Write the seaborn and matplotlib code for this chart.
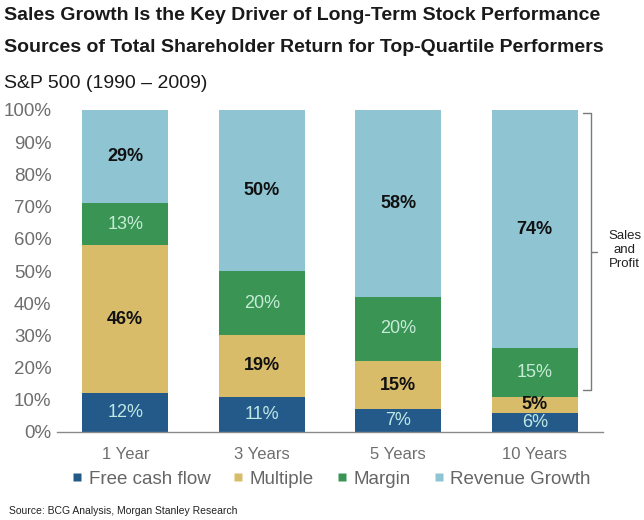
import matplotlib
matplotlib.use("Agg")
import matplotlib.pyplot as plt
from matplotlib.lines import Line2D
import seaborn as sns
import pandas as pd
import numpy as np

# ---- data ----
categories = ["1 Year", "3 Years", "5 Years", "10 Years"]
free_cash_flow = [12, 11, 7, 6]
multiple = [46, 19, 15, 5]
margin = [13, 20, 20, 15]
revenue_growth = [29, 50, 58, 74]
series_names = ["Free cash flow", "Multiple", "Margin", "Revenue Growth"]
series_values = [free_cash_flow, multiple, margin, revenue_growth]
colors = ["#245a8a", "#d8bc6a", "#3a9454", "#8fc5d3"]
label_colors = ["#bfe8e4", "#111111", "#c6ecd8", "#111111"]
ytick_vals = [i / 10 for i in range(11)]

sns.set_theme(style="white")
plt.rcParams["font.family"] = ["Liberation Sans", "DejaVu Sans"]

fig = plt.figure(figsize=(6.44, 5.2), dpi=100)
ax = fig.add_axes([57 / 644, 88 / 520, 546 / 644, 322 / 520])

# cumulative tops
cum = np.zeros(len(categories))
tops = []
for name, vals in zip(series_names, series_values):
    cum = cum + np.array(vals) / 100.0
    tops.append(cum.copy())

# draw tallest first, overlay shorter
for i in reversed(range(len(series_names))):
    d = pd.DataFrame({"category": categories, "top": tops[i]})
    sns.barplot(data=d, x="category", y="top", color=colors[i], width=0.63,
                saturation=1, ax=ax, errorbar=None, edgecolor="none")

# segment labels
for i, (name, vals) in enumerate(zip(series_names, series_values)):
    for j, v in enumerate(vals):
        bottom = tops[i][j] - v / 100.0
        mid = bottom + v / 200.0
        if v == 5:
            mid = bottom + 0.025
        dark = label_colors[i] == "#111111"
        ax.text(j, mid, f"{v}%", ha="center", va="center", fontsize=13,
                color=label_colors[i], fontweight="semibold" if dark else "normal")

ax.set_xlim(-0.5, 3.5)
ax.set_ylim(0, 1)
ax.set_yticks(ytick_vals)
ax.set_yticklabels([f"{int(round(t*100))}%" for t in ytick_vals])
ax.set_xlabel("")
ax.set_ylabel("")
for s in ["left", "right", "top"]:
    ax.spines[s].set_visible(False)
ax.spines["bottom"].set_color("#8a8a8a")
ax.spines["bottom"].set_linewidth(1.0)
ax.tick_params(axis="y", length=0, labelsize=13.5, labelcolor="#6e6e6e", pad=4)
ax.tick_params(axis="x", length=0, labelsize=12, labelcolor="#6e6e6e", pad=11)

# bracket
bc = "#7a7a7a"
ax.plot([3.35, 3.41, 3.41, 3.35], [0.99, 0.99, 0.13, 0.13], color=bc, lw=1.0,
        clip_on=False)
ax.plot([3.41, 3.455], [0.56, 0.56], color=bc, lw=1.0, clip_on=False)
ax.text(3.66, 0.565, "Sales\nand\nProfit", ha="center", va="center",
        fontsize=9.5, color="#222222", linespacing=1.2, clip_on=False)

# legend
handles = [Line2D([0], [0], marker="s", linestyle="none", markersize=6,
                  markerfacecolor=c, markeredgecolor="none") for c in colors]
fig.legend(handles, series_names, loc="center", ncol=4,
           bbox_to_anchor=(331 / 644, 1 - 479 / 520), frameon=False,
           fontsize=13.5, labelcolor="#666666", handlelength=0.6,
           handletextpad=0.3, columnspacing=1.2, borderaxespad=0)

# titles
fig.text(4 / 644, 1 - 16 / 520, "Sales Growth Is the Key Driver of Long-Term Stock Performance",
         fontsize=14, fontweight="bold", color="#1a1a1a", va="center", ha="left")
fig.text(4 / 644, 1 - 48 / 520, "Sources of Total Shareholder Return for Top-Quartile Performers",
         fontsize=14, fontweight="bold", color="#1a1a1a", va="center", ha="left")
fig.text(4 / 644, 1 - 83 / 520, "S&P 500 (1990 \u2013 2009)",
         fontsize=14, color="#1a1a1a", va="center", ha="left")
fig.text(9 / 644, 1 - 511 / 520, "Source: BCG Analysis, Morgan Stanley Research",
         fontsize=7.5, color="#222222", va="center", ha="left")

fig.savefig("out.png", dpi=100, facecolor="white")
